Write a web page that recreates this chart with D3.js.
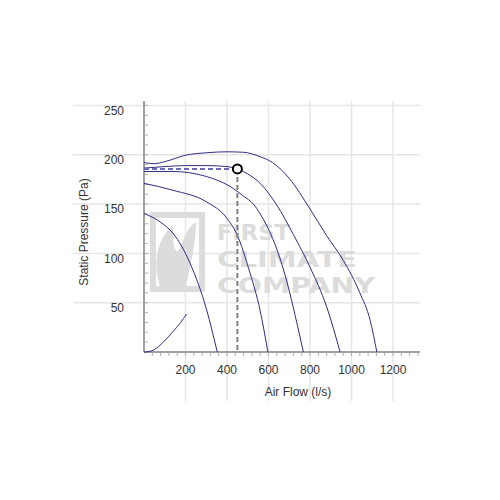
<!DOCTYPE html>
<html>
<head>
<meta charset="utf-8">
<script src="https://cdn.jsdelivr.net/npm/d3@7"></script>
<style>
  body { margin: 0; background: #fff; }
  text { font-family: "Liberation Sans", Arial, sans-serif; }
</style>
</head>
<body>
<script>
// fan curves: [air flow l/s, static pressure Pa]
var curve1 = [[0,192],[50,191],[100,193],[200,199.5],[300,202],[400,203],[480,202.5],[560,198],[620,192],[700,176],[800,145],[880,118],[960,93],[1040,60],[1090,32],[1122,0]];
var curve2 = [[0,186.5],[100,188],[200,189],[300,189],[400,188],[450,185.6],[500,180.5],[560,171],[600,161],[640,149],[720,119],[800,86],[880,46],[945,0]];
var curve3 = [[0,183],[140,183],[300,178],[414,168],[480,158],[527,150],[560,140],[620,115],[660,92],[700,62],[736,30],[768,0]];
var curve4 = [[0,171],[140,164],[300,152.4],[398,136],[446,120],[511,80],[559,42.6],[597,0]];
var curve5 = [[0,140.5],[77,132],[141,120],[222,90],[302,42.6],[353,0]];
var systemCurve = [[0,0],[25,0.5],[50,2.5],[93,10],[141,21],[175,29.5],[205,38.5]];
var curves = [curve1, curve2, curve3, curve4, curve5, systemCurve];

var dutyPoint = [450, 185.6];

var xTicks = [200, 400, 600, 800, 1000, 1200];
var yTicks = [50, 100, 150, 200, 250];
var watermark = ["FIRST", "CLIMATE", "COMPANY"];

var svg = d3.select("body").append("svg")
    .attr("width", 500)
    .attr("height", 500);

var x = d3.scaleLinear().domain([0, 1330]).range([144, 420]);
var y = d3.scaleLinear().domain([0, 254.5]).range([352, 101]);

// grid (extends into the label area like the original)
svg.append("g").selectAll("line")
  .data(yTicks)
  .enter().append("line")
    .attr("x1", 73).attr("x2", x.range()[1])
    .attr("y1", function(d) { return y(d); })
    .attr("y2", function(d) { return y(d); })
    .attr("stroke", "#e6e6e6")
    .attr("stroke-width", 1.5);

svg.append("g").selectAll("line")
  .data(xTicks)
  .enter().append("line")
    .attr("x1", function(d) { return x(d); })
    .attr("x2", function(d) { return x(d); })
    .attr("y1", y.range()[1]).attr("y2", 401)
    .attr("stroke", "#e6e6e6")
    .attr("stroke-width", 1.5);

// watermark
var wm = svg.append("g").attr("fill", "#dcdcdc");
wm.append("path")
    .attr("d", "M150,212 L205,212 L205,292 L150,292 Z M156,218 L156,286 L199,286 L199,218 Z")
    .attr("fill-rule", "evenodd");
wm.append("path")
    .attr("d", "M160,286 C152,262 158,238 172,226 C176,236 170,246 178,252 C184,240 186,228 196,222 C196,244 190,266 186,286 Z");
wm.selectAll("text")
  .data(watermark)
  .enter().append("text")
    .attr("x", 217)
    .attr("y", function(d, i) { return 240 + i * 26.5; })
    .attr("textLength", function(d, i) { return [73, 140, 158][i]; })
    .attr("lengthAdjust", "spacingAndGlyphs")
    .attr("font-size", 22)
    .attr("font-weight", "bold")
    .style("font-family", "DejaVu Sans, sans-serif")
    .text(function(d) { return d; });

// minor ticks
svg.append("g").selectAll("line")
  .data(d3.range(40, 1330, 40))
  .enter().append("line")
    .attr("x1", function(d) { return x(d); })
    .attr("x2", function(d) { return x(d); })
    .attr("y1", y(0)).attr("y2", y(0) + 4)
    .attr("stroke", "#b0b0b0");

svg.append("g").selectAll("line")
  .data(d3.range(10, 255, 10))
  .enter().append("line")
    .attr("x1", x(0)).attr("x2", x(0) + 4)
    .attr("y1", function(d) { return y(d); })
    .attr("y2", function(d) { return y(d); })
    .attr("stroke", "#b0b0b0");

// axis lines
svg.append("line")
    .attr("x1", x(0)).attr("x2", x(0))
    .attr("y1", y.range()[1]).attr("y2", y(0))
    .attr("stroke", "#a0a0a0").attr("stroke-width", 2);
svg.append("line")
    .attr("x1", x(0)).attr("x2", x.range()[1])
    .attr("y1", y(0)).attr("y2", y(0))
    .attr("stroke", "#a0a0a0").attr("stroke-width", 2);

// tick labels
svg.append("g").selectAll("text")
  .data(yTicks)
  .enter().append("text")
    .attr("x", 124)
    .attr("y", function(d) { return y(d) + 5; })
    .attr("dy", "0.35em")
    .attr("text-anchor", "end")
    .attr("font-size", 12)
    .attr("fill", "#333")
    .text(function(d) { return d; });

svg.append("g").selectAll("text")
  .data(xTicks)
  .enter().append("text")
    .attr("x", function(d) { return x(d); })
    .attr("y", 370)
    .attr("dy", "0.35em")
    .attr("text-anchor", "middle")
    .attr("font-size", 12)
    .attr("fill", "#333")
    .text(function(d) { return d; });

// axis titles
svg.append("text")
    .attr("transform", "translate(84,232) rotate(-90)")
    .attr("dy", "0.35em")
    .attr("text-anchor", "middle")
    .attr("font-size", 12)
    .attr("fill", "#333")
    .text("Static Pressure (Pa)");

svg.append("text")
    .attr("x", 298)
    .attr("y", 392)
    .attr("dy", "0.35em")
    .attr("text-anchor", "middle")
    .attr("font-size", 12)
    .attr("fill", "#333")
    .text("Air Flow (l/s)");

// curves
var line = d3.line()
    .x(function(d) { return x(d[0]); })
    .y(function(d) { return y(d[1]); })
    .curve(d3.curveMonotoneX);

svg.append("g").selectAll("path")
  .data(curves)
  .enter().append("path")
    .attr("d", line)
    .attr("fill", "none")
    .attr("stroke", "#2e2e86")
    .attr("stroke-width", 1);

// duty point guides
svg.append("line")
    .attr("x1", x(0)).attr("x2", x(dutyPoint[0]))
    .attr("y1", y(dutyPoint[1])).attr("y2", y(dutyPoint[1]))
    .attr("stroke", "#6b6bb8").attr("stroke-width", 2)
    .attr("stroke-dasharray", "5,3");
svg.append("line")
    .attr("x1", x(dutyPoint[0])).attr("x2", x(dutyPoint[0]))
    .attr("y1", y(dutyPoint[1])).attr("y2", y(0))
    .attr("stroke", "#808080").attr("stroke-width", 2)
    .attr("stroke-dasharray", "5,3");

svg.append("circle")
    .attr("cx", x(dutyPoint[0]))
    .attr("cy", y(dutyPoint[1]))
    .attr("r", 4.5)
    .attr("fill", "#fff")
    .attr("stroke", "#000")
    .attr("stroke-width", 2);
</script>
</body>
</html>
